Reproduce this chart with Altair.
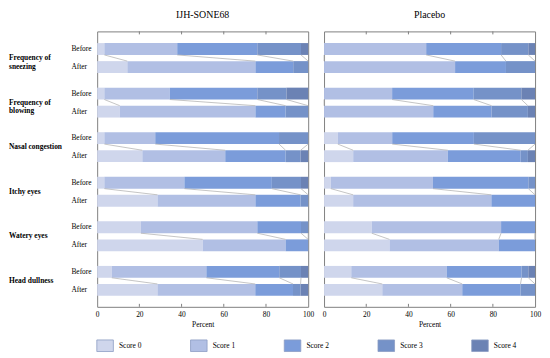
import altair as alt
import pandas as pd

groups = ["IJH-SONE68", "Placebo"]
symptom_labels = ["Frequency of\nsneezing", "Frequency of\nblowing", "Nasal congestion",
                  "Itchy eyes", "Watery eyes", "Head dullness"]
scores = ["Score 0", "Score 1", "Score 2", "Score 3", "Score 4"]
colors = ["#cfd6ec", "#b1bfe4", "#7b9cda", "#7592c8", "#6b82b4"]
times = ["Before", "After"]
ticks = [20, 40, 60, 80]

# percent of subjects per score (Score 0..4), one row per symptom
ijh_before = [
    [3.4, 34.5, 37.9, 20.7, 3.4],
    [3.4, 31.0, 41.4, 13.8, 10.3],
    [3.4, 24.1, 58.6, 13.8, 0.0],
    [3.4, 37.9, 41.4, 13.8, 3.4],
    [20.7, 55.2, 20.7, 3.4, 0.0],
    [6.9, 44.8, 34.5, 10.3, 3.4],
]
ijh_after = [
    [14.3, 60.7, 17.9, 7.1, 0.0],
    [10.7, 64.3, 14.3, 10.7, 0.0],
    [21.4, 39.3, 28.6, 7.1, 3.6],
    [28.6, 46.4, 21.4, 3.6, 0.0],
    [50.0, 39.3, 10.7, 0.0, 0.0],
    [28.6, 46.4, 17.9, 3.6, 3.6],
]
pla_before = [
    [0.0, 48.4, 35.5, 12.9, 3.2],
    [0.0, 32.3, 38.7, 22.6, 6.5],
    [6.5, 25.8, 38.7, 29.0, 0.0],
    [3.2, 48.4, 45.2, 3.2, 0.0],
    [22.6, 61.3, 16.1, 0.0, 0.0],
    [12.9, 45.2, 35.5, 3.2, 3.2],
]
pla_after = [
    [0.0, 62.1, 24.1, 13.8, 0.0],
    [0.0, 51.7, 27.6, 17.2, 3.4],
    [13.8, 44.8, 34.5, 3.4, 3.4],
    [13.8, 65.5, 20.7, 0.0, 0.0],
    [31.0, 51.7, 17.2, 0.0, 0.0],
    [27.6, 37.9, 27.6, 6.9, 0.0],
]
series = {"IJH-SONE68": (ijh_before, ijh_after), "Placebo": (pla_before, pla_after)}

FONT = "Liberation Serif"
W, H = 213, 278
YMAX = 6.18
HALF = 0.133
OFF = {"Before": 0.395, "After": 0.8}

xscale = alt.Scale(domain=[0, 100], nice=False, zero=False)
yscale = alt.Scale(domain=[0, YMAX], reverse=True, nice=False, zero=False)
xaxis = alt.Axis(values=[0, 20, 40, 60, 80, 100], title="Percent", ticks=False, domain=False,
                 grid=False, labelFlush=False, labelOverlap=False, labelFontSize=7.5,
                 labelFont=FONT, labelColor="#000", labelPadding=4, titleFont=FONT,
                 titleFontSize=7.5, titleFontWeight="normal", titleColor="#000", titlePadding=2)
legend = alt.Legend(orient="none", legendX=-1, legendY=308, direction="horizontal", columns=5,
                    title=None, symbolType="M-1,-0.7H1V0.7H-1Z", symbolSize=279,
                    symbolStrokeColor="#8c9cc4", symbolStrokeWidth=0.8, symbolOpacity=1,
                    labelFont=FONT, labelFontSize=7.5, labelColor="#000", labelOffset=5,
                    columnPadding=47.6)


def X(f):
    return alt.X(f, type="quantitative", scale=xscale, axis=xaxis)


def Y(f):
    return alt.Y(f, type="quantitative", scale=yscale, axis=None)


def panel(g, show_labels):
    before, after = series[g]
    bars, links = [], []
    for i in range(6):
        rows = {"Before": before[i], "After": after[i]}
        for t in times:
            vals = rows[t]
            tot = sum(vals)
            cum = 0.0
            p = i + OFF[t]
            for k, v in enumerate(vals):
                s = cum / tot * 100
                cum += v
                e = cum / tot * 100
                if v > 0:
                    bars.append({"score": scores[k], "start": s, "end": e,
                                 "y0": p - HALF, "y1": p + HALF})
        tb, ta = sum(before[i]), sum(after[i])
        for k in range(1, 5):
            links.append({"xb": sum(before[i][:k]) / tb * 100, "xa": sum(after[i][:k]) / ta * 100,
                          "yb": i + OFF["Before"] + HALF, "ya": i + OFF["After"] - HALF})
    bdf = pd.DataFrame(bars)
    ldf = pd.DataFrame(links)
    tdf = pd.DataFrame({"t": ticks})

    barl = alt.Chart(bdf).mark_rect().encode(
        x=X("start"), x2="end", y=Y("y0"), y2="y1",
        color=alt.Color("score:N", scale=alt.Scale(domain=scores, range=colors), legend=legend))
    linkl = alt.Chart(ldf).mark_rule(color="#b5b5b5", strokeWidth=0.8).encode(
        x=X("xb"), x2="xa", y=Y("yb"), y2="ya")
    ttop = alt.Chart(tdf).mark_rule(color="#7f7f7f", strokeWidth=1).encode(
        x=X("t"), y=alt.value(0), y2=alt.value(3))
    tbot = alt.Chart(tdf).mark_rule(color="#7f7f7f", strokeWidth=1).encode(
        x=X("t"), y=alt.value(H - 3), y2=alt.value(H))
    layers = [barl, linkl, ttop, tbot]
    if show_labels:
        tl = pd.DataFrame([{"label": t, "pos": i + OFF[t]} for i in range(6) for t in times])
        sl = pd.DataFrame([{"label": symptom_labels[i], "pos": i + (OFF["Before"] + OFF["After"]) / 2}
                           for i in range(6)])
        layers.append(alt.Chart(tl).mark_text(align="left", baseline="middle", font=FONT,
                                              fontSize=7.5, color="#000").encode(
            x=alt.value(-26), y=Y("pos"), text="label:N"))
        layers.append(alt.Chart(sl).mark_text(align="left", baseline="middle", font=FONT,
                                              fontSize=7.5, fontWeight="bold", color="#000",
                                              lineBreak="\n", lineHeight=9).encode(
            x=alt.value(-89), y=Y("pos"), text="label:N"))
    return alt.layer(*layers).properties(
        width=W, height=H,
        title=alt.TitleParams(g, font=FONT, fontSize=10, fontWeight="normal", color="#000",
                              offset=11, anchor="middle"))


chart = alt.hconcat(panel("IJH-SONE68", True), panel("Placebo", False), spacing=16,
                    bounds="flush").properties(
    padding={"left": 0, "top": 0, "right": 0, "bottom": 0}
).configure(font=FONT).configure_view(stroke="#7f7f7f", strokeWidth=1)

chart.save("out.html", embed_options={"renderer": "svg", "actions": False})
